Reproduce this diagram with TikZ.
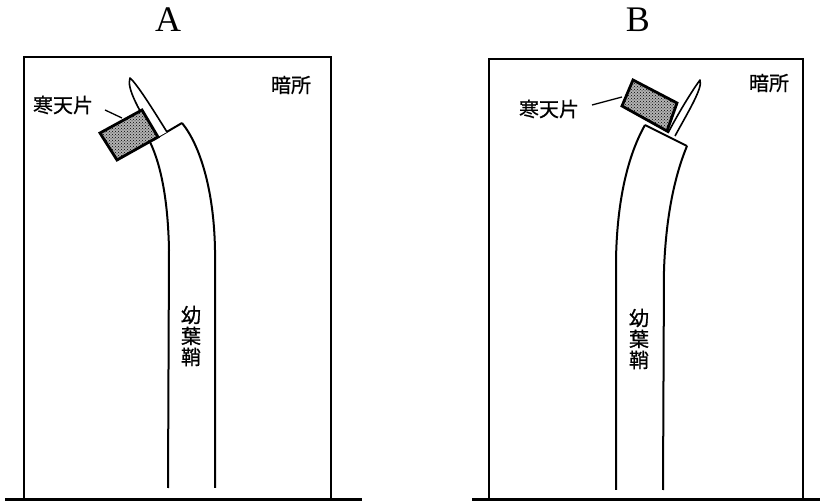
\documentclass[tikz,border=0pt]{standalone}
\usepackage{fontspec}
\usetikzlibrary{patterns}
\setmainfont{Liberation Serif}
\newfontfamily\jpfont[FakeBold=0.8]{Noto Sans CJK JP}
\begin{document}
\begin{tikzpicture}[x=1pt,y=-1pt,
  frame/.style={line width=2.6pt},
  ground/.style={line width=3pt},
  stalk/.style={line width=2pt, line join=round},
  agar/.style={line width=2.8pt, fill=black!30, line join=miter},
  tip/.style={line width=1.6pt, fill=white, line join=round},
  lead/.style={line width=1.3pt},
  jp/.style={font=\jpfont\fontsize{20}{21}\selectfont, inner sep=0pt},
  panel/.style={font=\fontsize{36}{36}\selectfont, inner sep=0pt}]
\useasboundingbox (0,0) rectangle (820,502);

% ---------- panel A ----------
\node[panel] (labA) at (168,20) {A};
\draw[frame] (24,500) -- (24,57) -- (331,57) -- (331,500);
\draw[ground] (5,500) -- (362,500);
\node[jp] (darkA) at (291,85) {暗所};
% coleoptile bending toward the left
\draw[stalk] (150,142) .. controls (161,165) and (168,200) .. (169,250) -- (168,488);
\draw[stalk] (182,123) .. controls (200,145) and (214,190) .. (215,250) -- (215,488);
\draw[stalk] (153,140) -- (182,123);
% primary leaf tip
\draw[tip] (156,138) .. controls (140,112) and (126,88) .. (130,78)
           .. controls (137,84) and (152,108) .. (167,132);
% agar block on one side of the cut tip
\draw[agar, postaction={pattern=crosshatch dots}] (100,133) -- (142,110) -- (158,137) -- (117,160) -- cycle;
\coordinate (agarA) at (122,118);
\node[jp] (txtA) at (63,105) {寒天片};
\draw[lead] (105,110) -- (agarA);
\node[jp, align=center] (colA) at (191,336) {幼\\葉\\鞘};

% ---------- panel B ----------
\node[panel] (labB) at (638,20) {B};
\draw[frame] (489,500) -- (489,59) -- (803,59) -- (803,500);
\draw[ground] (472,500) -- (820,500);
\node[jp] (darkB) at (769,83) {暗所};
% coleoptile bending toward the right
\draw[stalk] (645,125) .. controls (628,155) and (617,200) .. (616,260) -- (616,490);
\draw[stalk] (687,146) .. controls (675,175) and (666,215) .. (664,270) -- (663,490);
\draw[stalk] (645,125) -- (687,146);
% primary leaf tip
\draw[tip] (668,133) .. controls (680,110) and (694,88) .. (700,80)
           .. controls (703,88) and (688,112) .. (675,136);
% agar block
\draw[agar, postaction={pattern=crosshatch dots}] (633,80) -- (677,103) -- (667,131) -- (622,106) -- cycle;
\coordinate (agarB) at (622,97);
\node[jp] (txtB) at (549,109) {寒天片};
\draw[lead] (592,105) -- (agarB);
\node[jp, align=center] (colB) at (639,339) {幼\\葉\\鞘};
\end{tikzpicture}
\end{document}
